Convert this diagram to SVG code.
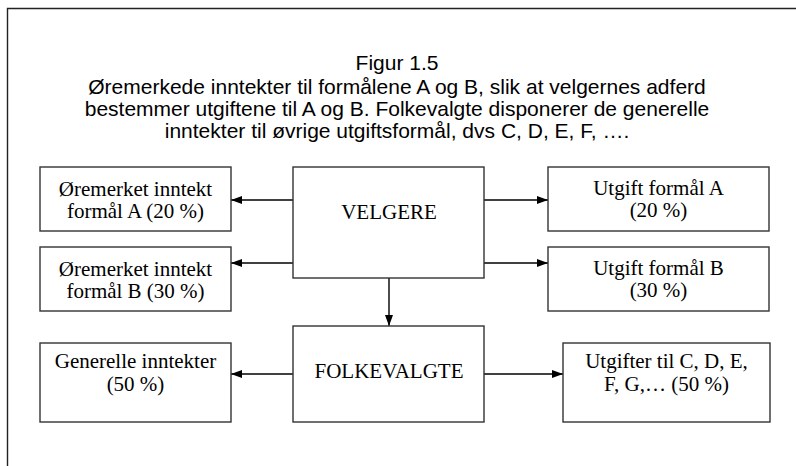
<svg xmlns="http://www.w3.org/2000/svg" width="796" height="466" viewBox="0 0 796 466">
  <style>
    .box { fill: #ffffff; stroke: #333333; stroke-width: 1.4; }
    .title { font-family: "Liberation Sans", Arial, sans-serif; font-size: 21px; fill: #000000; text-anchor: middle; }
    .lbl { font-family: "Liberation Serif", "Times New Roman", serif; font-size: 21px; fill: #000000; text-anchor: middle; }
    .conn { stroke: #000000; stroke-width: 1.4; fill: none; marker-end: url(#arrow); }
    .frame { stroke: #222222; stroke-width: 1.4; fill: none; }
  </style>
  <defs>
    <marker id="arrow" markerUnits="userSpaceOnUse" markerWidth="12" markerHeight="10" refX="11" refY="4" orient="auto">
      <path d="M0,0 L11,4 L0,8 Z" fill="#000000"/>
    </marker>
  </defs>

  <rect x="0" y="0" width="796" height="466" fill="#ffffff"/>

  <!-- page frame (top and left edges) -->
  <path class="frame" d="M7.5,466 L7.5,8.5 L796,8.5"/>

  <!-- heading -->
  <g id="heading">
    <text class="title" x="397" y="70">Figur 1.5</text>
    <text class="title" x="397" y="94">Øremerkede inntekter til formålene A og B, slik at velgernes adferd</text>
    <text class="title" x="397" y="116">bestemmer utgiftene til A og B. Folkevalgte disponerer de generelle</text>
    <text class="title" x="397" y="138">inntekter til øvrige utgiftsformål, dvs C, D, E, F, ….</text>
  </g>

  <g id="connectors">
    <line class="conn" x1="293" y1="200" x2="231" y2="200"/>
    <line class="conn" x1="293" y1="263" x2="231" y2="263"/>
    <line class="conn" x1="484" y1="200" x2="548" y2="200"/>
    <line class="conn" x1="484" y1="263" x2="548" y2="263"/>
    <line class="conn" x1="389" y1="278" x2="389" y2="326"/>
    <line class="conn" x1="293" y1="374" x2="231" y2="374"/>
    <line class="conn" x1="484" y1="374" x2="563" y2="374"/>
  </g>

  <g id="velgere">
    <rect class="box" x="293" y="167" width="191" height="111"/>
    <text class="lbl" x="389" y="219">VELGERE</text>
  </g>

  <g id="folkevalgte">
    <rect class="box" x="293" y="326" width="191" height="96"/>
    <text class="lbl" x="389" y="378">FOLKEVALGTE</text>
  </g>

  <g id="inntekt-a">
    <rect class="box" x="40" y="167" width="191" height="64"/>
    <text class="lbl" x="135.5" y="196">Øremerket inntekt</text>
    <text class="lbl" x="135.5" y="218">formål A (20 %)</text>
  </g>

  <g id="inntekt-b">
    <rect class="box" x="40" y="247" width="191" height="64"/>
    <text class="lbl" x="135.5" y="276">Øremerket inntekt</text>
    <text class="lbl" x="135.5" y="298">formål B (30 %)</text>
  </g>

  <g id="generelle">
    <rect class="box" x="40" y="343" width="191" height="79"/>
    <text class="lbl" x="135.5" y="368">Generelle inntekter</text>
    <text class="lbl" x="135.5" y="391">(50 %)</text>
  </g>

  <g id="utgift-a">
    <rect class="box" x="548" y="167" width="221" height="64"/>
    <text class="lbl" x="658.5" y="195">Utgift formål A</text>
    <text class="lbl" x="658.5" y="217">(20 %)</text>
  </g>

  <g id="utgift-b">
    <rect class="box" x="548" y="247" width="221" height="64"/>
    <text class="lbl" x="658.5" y="275">Utgift formål B</text>
    <text class="lbl" x="658.5" y="297">(30 %)</text>
  </g>

  <g id="utgifter-cdef">
    <rect class="box" x="563" y="343" width="207" height="79"/>
    <text class="lbl" x="666.5" y="368">Utgifter til C, D, E,</text>
    <text class="lbl" x="666.5" y="391">F, G,… (50 %)</text>
  </g>
</svg>
